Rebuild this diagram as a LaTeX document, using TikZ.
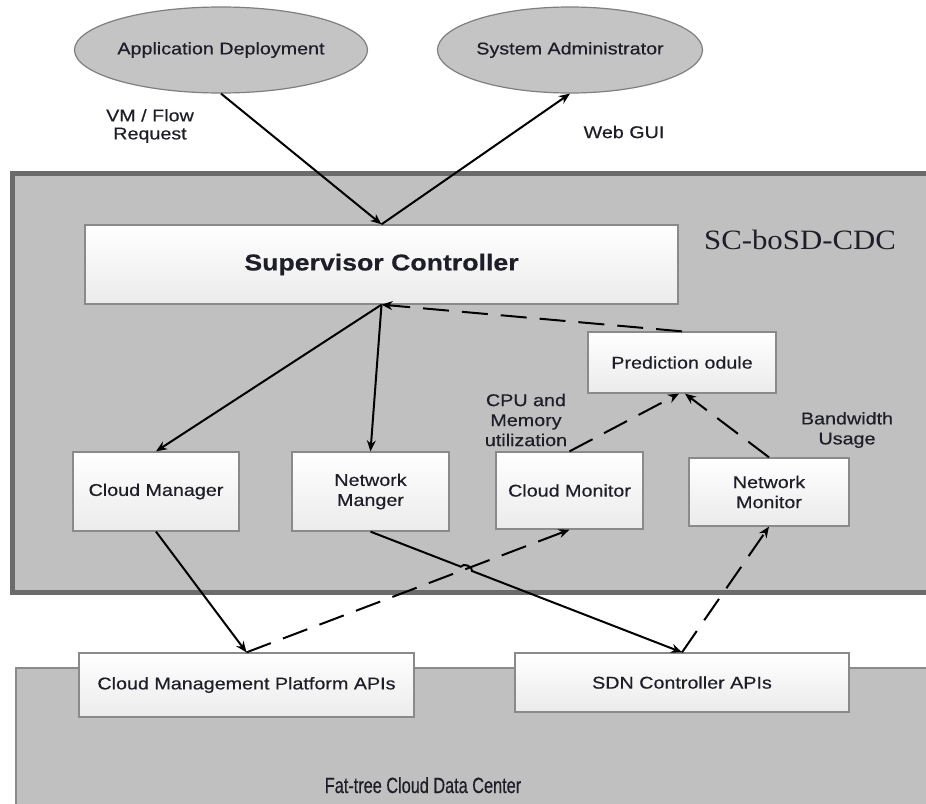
\documentclass[tikz,border=0pt]{standalone}
\usepackage{fontspec}
\setmainfont[FakeStretch=1.16,FakeBold=0.4]{Liberation Sans}
\newfontfamily\scserif[FakeStretch=1.1]{Liberation Serif}
\newfontfamily\narrowsans[FakeStretch=0.74,FakeBold=0.4]{Liberation Sans}
\usetikzlibrary{arrows.meta,calc,shapes.geometric}
\definecolor{framefill}{HTML}{C0C0C0}
\definecolor{frameline}{HTML}{6B6B6B}
\definecolor{boxline}{HTML}{8A8A8A}
\definecolor{boxbot}{HTML}{EBEBEB}
\definecolor{ellfill}{HTML}{C4C4C4}
\definecolor{ellline}{HTML}{7F7F7F}
\definecolor{txt}{HTML}{1E1E28}
\newcommand\labfont{\fontsize{17}{20}\selectfont}
\tikzset{
  box/.style={draw=boxline, line width=1.3pt, top color=white, bottom color=boxbot,
    inner sep=2pt, align=center, font=\labfont, text=txt},
  ell/.style={ellipse, draw=ellline, fill=ellfill, line width=1.2pt, inner sep=0pt,
    font=\labfont, text=txt},
  arr/.style={draw=black, line width=2pt, -{Stealth[length=11pt,width=9pt]}},
  darr/.style={arr, dash pattern=on 26pt off 13pt},
  lbl/.style={font=\labfont, text=txt, align=center, inner sep=0pt},
}
\begin{document}
\begin{tikzpicture}[x=1pt,y=-1pt]
\useasboundingbox (0,0) rectangle (926,803);
\clip (0,0) rectangle (926,803);
\fill[white] (0,0) rectangle (926,803);
% outer frame
\draw[fill=framefill, draw=frameline, line width=5pt] (12.5,173.5) rectangle (945,592.5);
% data center region
\draw[fill=framefill, draw=boxline, line width=1.2pt] (16,668) rectangle (945,830);
% ellipses
\node[ell, minimum width=236pt, minimum height=86pt] (ad) at (221,50) {Application Deployment};
\node[ell, minimum width=243pt, minimum height=86pt] (sa) at (570,50) {System Administrator};
% boxes
\node[box, minimum width=593pt, minimum height=79pt, font=\fontsize{23}{26}\selectfont\bfseries] (sup) at (381.5,264.5) {Supervisor Controller};
\node[box, minimum width=188pt, minimum height=61pt] (pm) at (682,362.5) {Prediction odule};
\node[box, minimum width=166pt, minimum height=79pt] (cm) at (156,491.5) {Cloud Manager};
\node[box, minimum width=157pt, minimum height=79pt] (nm) at (370.5,491.5) {Network\\Manger};
\node[box, minimum width=147pt, minimum height=77pt] (cmon) at (569.5,490.5) {Cloud Monitor};
\node[box, minimum width=160pt, minimum height=68pt] (nmon) at (769,492) {Network\\Monitor};
\node[box, minimum width=335pt, minimum height=64pt] (cmp) at (246.5,685) {Cloud Management Platform APIs};
\node[box, minimum width=334pt, minimum height=59pt] (sdn) at (682,682.5) {SDN Controller APIs};
% labels
\node[lbl, font=\fontsize{17}{18}\selectfont] (vmreq) at (150,126) {VM / Flow\\Request};
\node[lbl] (webgui) at (624,132) {Web GUI};
\node[lbl, font=\fontsize{28}{30}\scserif] (scb) at (800,240) {SC-boSD-CDC};
\node[lbl] (cpu) at (526,420) {CPU and\\Memory\\utilization};
\node[lbl] (bw) at (847,430) {Bandwidth\\Usage};
\node[lbl, font=\fontsize{22}{24}\narrowsans, anchor=base] (fat) at (423,793) {Fat-tree Cloud Data Center};
% connectors
\draw[arr] (ad.south) -- (sup.north);
\draw[arr] (sup.north) -- (sa.south);
\draw[arr] (sup.south) -- (cm.north);
\draw[arr] (sup.south) -- (nm.north);
\draw[darr] (pm.north) -- (sup.south);
\draw[darr] (cmon.north) -- ([xshift=-3pt]pm.south);
\draw[darr] (nmon.north) -- ([xshift=3pt]pm.south);
\draw[arr] (cm.south) -- (cmp.north);
\draw[darr] (cmp.north) -- (cmon.south);
\draw[darr] (sdn.north) -- (nmon.south);
\coordinate (hopA) at ($(nm.south)!0.29!(sdn.north)$);
\coordinate (hopB) at ($(nm.south)!0.326!(sdn.north)$);
\draw[arr] (nm.south) -- (hopA) to[bend left=80] (hopB) -- (sdn.north);
\end{tikzpicture}
\end{document}
